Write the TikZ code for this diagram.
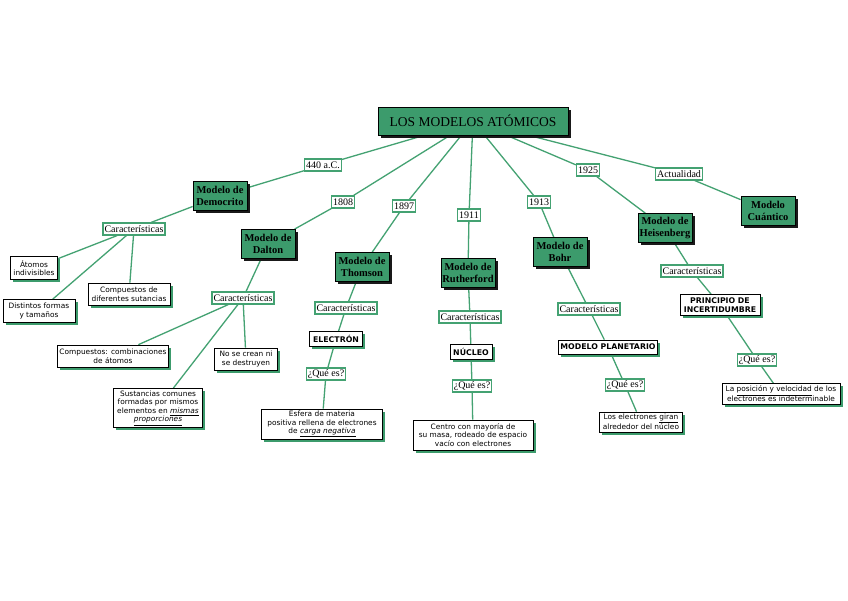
\documentclass[tikz,border=0pt]{standalone}
\usepackage{fontspec}
\setmainfont{Liberation Serif}
\setsansfont{DejaVu Sans}
\usetikzlibrary{shadows,backgrounds}
\definecolor{mgreen}{RGB}{60,155,108}
\definecolor{lgreen}{RGB}{68,162,114}
\begin{document}
\begin{tikzpicture}[x=1pt,y=-1pt,
  edge/.style={draw=lgreen,line width=1.3pt},
  mtitle/.style={draw=black,fill=mgreen,line width=0.8pt,font=\fontsize{13.5}{15}\selectfont,minimum width=190pt,minimum height=28pt,inner sep=1pt,drop shadow={shadow xshift=2.5pt,shadow yshift=-2.5pt,fill=black!90,opacity=1}},
  model/.style={draw=black,fill=mgreen,line width=0.8pt,font=\fontsize{10.5}{12}\selectfont\bfseries,align=center,minimum width=54pt,minimum height=29pt,inner sep=1pt,drop shadow={shadow xshift=2.5pt,shadow yshift=-2.5pt,fill=black!90,opacity=1}},
  lab/.style={draw=lgreen,fill=white,line width=1.2pt,font=\fontsize{10}{11}\selectfont,inner sep=1.5pt,minimum height=12pt},
  leaf/.style={draw=black,fill=white,line width=0.7pt,font=\sffamily\fontsize{7.4}{8.6}\selectfont,align=center,inner sep=1.5pt,drop shadow={shadow xshift=2.5pt,shadow yshift=-2.5pt,fill=mgreen,opacity=1}},
  keyb/.style={leaf,font=\sffamily\bfseries\fontsize{7.8}{8.8}\selectfont}
]
\useasboundingbox (0,0) rectangle (848,600);

% title
\node[mtitle] (title) at (473,121) {LOS MODELOS ATÓMICOS};

% year labels
\node[lab] (y440) at (323,165) {440 a.C.};
\node[lab] (y1808) at (343,202) {1808};
\node[lab] (y1897) at (404,206) {1897};
\node[lab] (y1911) at (469,215) {1911};
\node[lab] (y1913) at (539,202) {1913};
\node[lab] (y1925) at (588,170) {1925};
\node[lab] (yact) at (679,174) {Actualidad};

% models
\node[model] (demo) at (220,196) {Modelo de\\Democrito};
\node[model] (dalton) at (268,244) {Modelo de\\Dalton};
\node[model] (thomson) at (362,267) {Modelo de\\Thomson};
\node[model] (ruth) at (468,273) {Modelo de\\Rutherford};
\node[model] (bohr) at (560,252) {Modelo de\\Bohr};
\node[model] (heis) at (665,228) {Modelo de\\Heisenberg};
\node[model] (cuant) at (768,211) {Modelo\\Cuántico};

% caracteristicas
\node[lab] (c1) at (134,229) {Características};
\node[lab] (c2) at (243,298) {Características};
\node[lab] (c3) at (346,308) {Características};
\node[lab] (c4) at (470,317) {Características};
\node[lab] (c5) at (589,309) {Características};
\node[lab] (c6) at (692,271) {Características};

% Democrito leaves
\node[leaf,minimum width=47pt,minimum height=23pt] (atomos) at (34,268) {Átomos\\indivisibles};
\node[leaf,minimum width=72pt,minimum height=23pt] (distintos) at (39,311) {Distintos formas\\y tamaños};
\node[leaf,minimum width=82pt,minimum height=22pt] (compd) at (129,294) {Compuestos de\\diferentes sutancias};

% Dalton leaves
\node[leaf,minimum width=111pt,minimum height=22pt] (comb) at (113,356) {Compuestos: combinaciones\\de átomos};
\node[leaf,minimum width=63pt,minimum height=22pt] (nocrean) at (246,359) {No se crean ni\\se destruyen};
\node[leaf,minimum width=89pt,minimum height=39pt] (sust) at (158,408) {Sustancias comunes\\formadas por mismos\\elementos en \underline{\textit{mismas}}\\\underline{\textit{proporciones}}};

% Thomson
\node[keyb,minimum width=53pt,minimum height=15pt] (electron) at (336,339) {ELECTRÓN};
\node[lab] (q3) at (326,374) {¿Qué es?};
\node[leaf,minimum width=121pt,minimum height=30pt] (esfera) at (322,424) {Esfera de materia\\positiva rellena de electrones\\de \underline{\textit{carga negativa}}};

% Rutherford
\node[keyb,minimum width=42pt,minimum height=15pt] (nucleo) at (471,352) {NÚCLEO};
\node[lab] (q4) at (472,386) {¿Qué es?};
\node[leaf,minimum width=120pt,minimum height=30pt] (centro) at (473,435) {Centro con mayoría de\\su masa, rodeado de espacio\\vacío con electrones};

% Bohr
\node[keyb,minimum width=99pt,minimum height=14pt] (planet) at (608,347) {MODELO PLANETARIO};
\node[lab] (q5) at (625,385) {¿Qué es?};
\node[leaf,minimum width=83pt,minimum height=20pt] (giran) at (641,422) {Los electrones \underline{giran}\\alrededor del núcleo};

% Heisenberg
\node[keyb,minimum width=80pt,minimum height=21pt] (princ) at (720,305) {PRINCIPIO DE\\INCERTIDUMBRE};
\node[lab] (q6) at (757,360) {¿Qué es?};
\node[leaf,minimum width=118pt,minimum height=21pt] (posic) at (781,394) {La \underline{posición y velocidad} de los\\electrones es indeterminable};

% edges
\begin{pgfonlayer}{background}
\fill[white] (0,0) rectangle (848,600);
\draw[edge] (title) -- (y440) -- (demo);
\draw[edge] (title) -- (y1808) -- (dalton);
\draw[edge] (title) -- (y1897) -- (thomson);
\draw[edge] (title) -- (y1911) -- (ruth);
\draw[edge] (title) -- (y1913) -- (bohr);
\draw[edge] (title) -- (y1925) -- (heis);
\draw[edge] (title) -- (yact) -- (cuant);

\draw[edge] (demo) -- (c1);
\draw[edge] (c1) -- (atomos);
\draw[edge] (c1) -- (distintos);
\draw[edge] (c1) -- (compd);

\draw[edge] (dalton) -- (c2);
\draw[edge] (c2) -- (comb);
\draw[edge] (c2) -- (nocrean);
\draw[edge] (c2) -- (sust);

\draw[edge] (thomson) -- (c3) -- (electron) -- (q3) -- (esfera);
\draw[edge] (ruth) -- (c4) -- (nucleo) -- (q4) -- (centro);
\draw[edge] (bohr) -- (c5) -- (planet) -- (q5) -- (giran);
\draw[edge] (heis) -- (c6) -- (princ) -- (q6) -- (posic);
\end{pgfonlayer}
\end{tikzpicture}
\end{document}
